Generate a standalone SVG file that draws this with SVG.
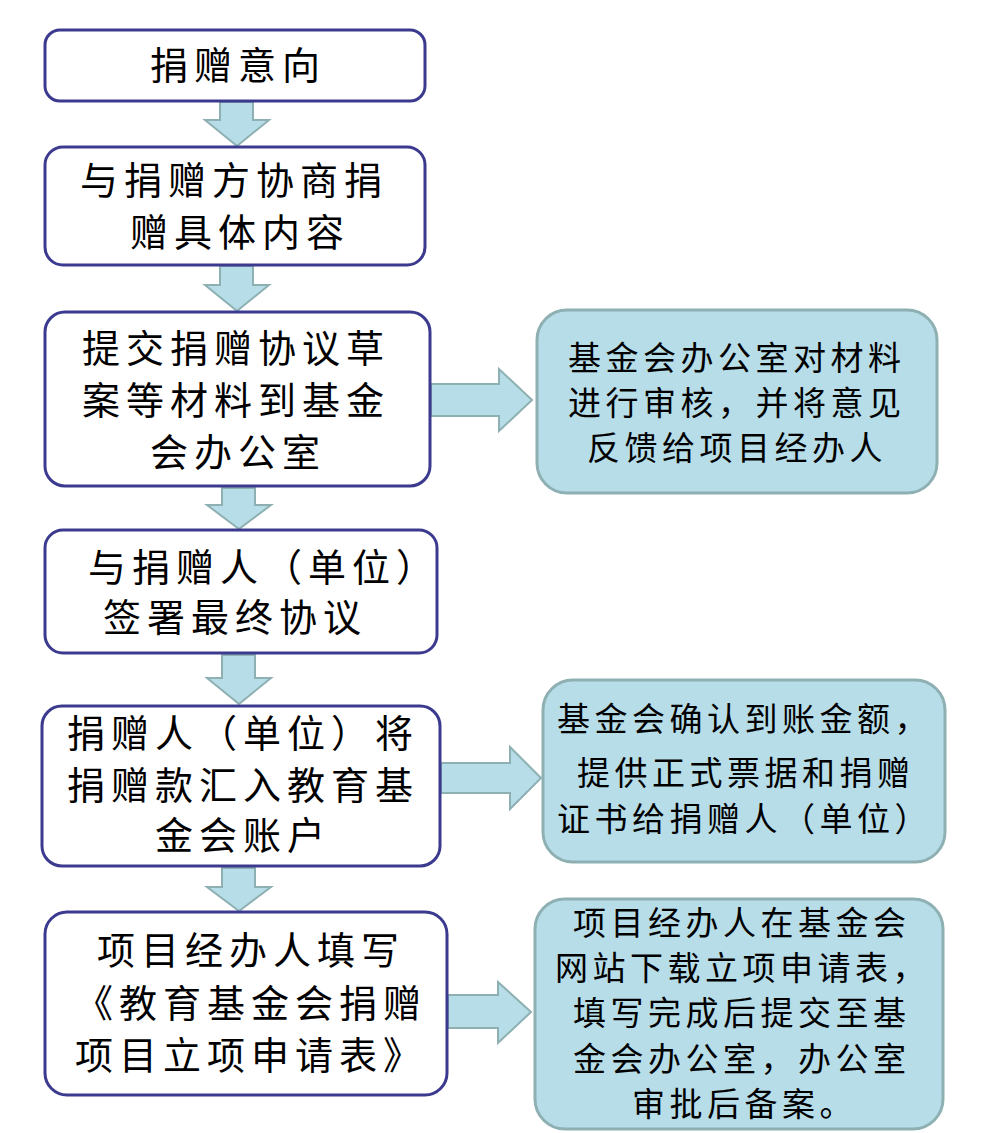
<svg xmlns="http://www.w3.org/2000/svg" width="982" height="1133" viewBox="0 0 982 1133">
<style>
.box{fill:#ffffff;stroke:#3b3a8f;stroke-width:3}
.side{fill:#b7dde8;stroke:#8eb0b3;stroke-width:3}
.arr{fill:#b7dde8;stroke:#8eb0b3;stroke-width:2}
.t{font-family:"Noto Sans CJK SC","Noto Sans CJK TC",sans-serif;font-size:38px;letter-spacing:6px;fill:#000}
.s{font-family:"Noto Sans CJK SC","Noto Sans CJK TC",sans-serif;font-size:33px;letter-spacing:4.5px;fill:#000}
</style>
<rect width="982" height="1133" fill="#ffffff"/>
<g id="connectors">
<path class="arr" d="M220,102 H253 V120 H269 L237,146 L205,120 H220 Z"/>
<path class="arr" d="M220,266 H253 V285 H269 L237,311 L205,285 H220 Z"/>
<path class="arr" d="M222,488 H255 V505 H271 L239,529 L207,505 H222 Z"/>
<path class="arr" d="M222,655 H255 V678 H271 L239,704 L207,678 H222 Z"/>
<path class="arr" d="M222,868 H255 V887 H271 L239,911 L207,887 H222 Z"/>
<path class="arr" d="M431,384 H499 V369 L532,400 L499,431 V416 H431 Z"/>
<path class="arr" d="M441,763 H510 V747 L541,778 L510,809 V793 H441 Z"/>
<path class="arr" d="M448,995 H498 V982 L531,1012 L498,1043 V1028 H448 Z"/>
</g>
<g id="n1"><rect class="box" x="45" y="30" width="380" height="71" rx="15"/>
<text class="t" x="150" y="79">捐赠意向</text></g>
<g id="n2"><rect class="box" x="45" y="147" width="380" height="118" rx="18"/>
<text class="t" x="80" y="194">与捐赠方协商捐</text><text class="t" x="130" y="246">赠具体内容</text></g>
<g id="n3"><rect class="box" x="45" y="312" width="385" height="174" rx="20"/>
<text class="t" x="82" y="362">提交捐赠协议草</text><text class="t" x="82" y="414">案等材料到基金</text><text class="t" x="150" y="466">会办公室</text></g>
<g id="n4"><rect class="box" x="45" y="530" width="392" height="123" rx="18"/>
<text class="t" x="88" y="581">与捐赠人（单位）</text><text class="t" x="103" y="631">签署最终协议</text></g>
<g id="n5"><rect class="box" x="42" y="706" width="398" height="160" rx="20"/>
<text class="t" x="67" y="747">捐赠人（单位）将</text><text class="t" x="67" y="799">捐赠款汇入教育基</text><text class="t" x="155" y="849">金会账户</text></g>
<g id="n6"><rect class="box" x="45" y="912" width="402" height="183" rx="22"/>
<text class="t" x="97" y="964">项目经办人填写</text><text class="t" x="75" y="1017">《教育基金会捐赠</text><text class="t" x="75" y="1069">项目立项申请表》</text></g>
<g id="r1"><rect class="side" x="537" y="310" width="400" height="183" rx="30"/>
<text class="s" x="568" y="370">基金会办公室对材料</text><text class="s" x="568" y="415">进行审核，并将意见</text><text class="s" x="587" y="460">反馈给项目经办人</text></g>
<g id="r2"><rect class="side" x="543" y="680" width="402" height="182" rx="30"/>
<text class="s" x="557" y="731">基金会确认到账金额，</text><text class="s" x="577" y="785">提供正式票据和捐赠</text><text class="s" x="557" y="831">证书给捐赠人（单位）</text></g>
<g id="r3"><rect class="side" x="535" y="899" width="408" height="230" rx="30"/>
<text class="s" x="573" y="935">项目经办人在基金会</text><text class="s" x="555" y="980">网站下载立项申请表，</text><text class="s" x="573" y="1025">填写完成后提交至基</text><text class="s" x="573" y="1071">金会办公室，办公室</text><text class="s" x="632" y="1116">审批后备案。</text></g>
</svg>
